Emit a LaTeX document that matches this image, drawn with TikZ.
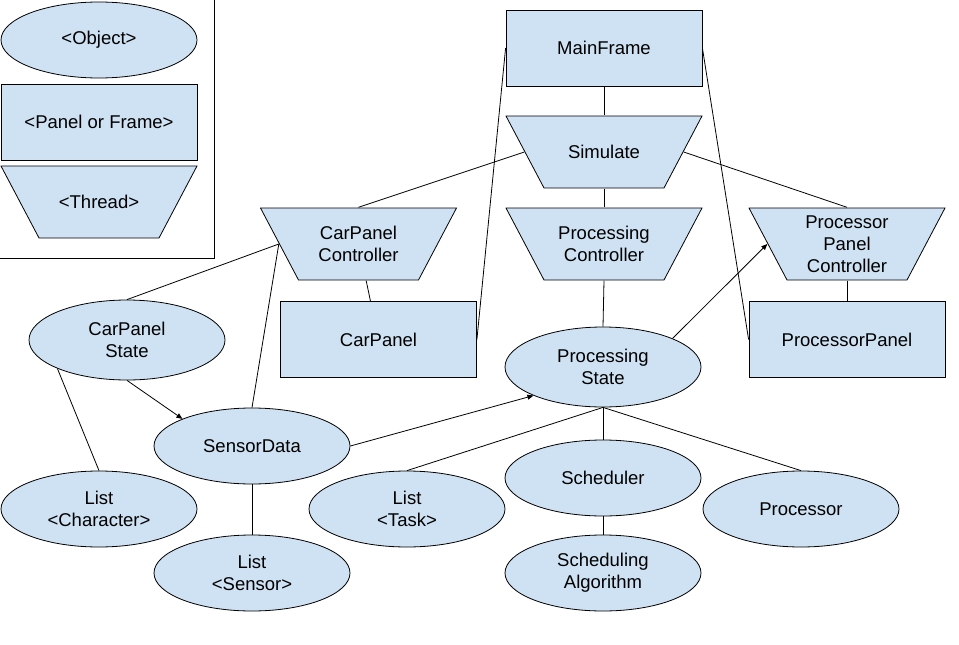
\documentclass[tikz,border=0pt]{standalone}
\usepackage{fontspec}
\setmainfont{Liberation Sans}
\usetikzlibrary{shapes.geometric,arrows.meta}
\definecolor{nodefill}{HTML}{CFE2F3}
\begin{document}
\begin{tikzpicture}[x=1pt,y=-1pt,
  every node/.style={font=\fontsize{18.5}{22}\selectfont, align=center, inner sep=0pt},
  obj/.style={ellipse, draw=black, fill=nodefill, line width=0.8pt, minimum width=196pt, minimum height=76pt},
  objtall/.style={obj, minimum height=80pt},
  panel/.style={rectangle, draw=black, fill=nodefill, line width=0.8pt, minimum width=196pt, minimum height=76pt},
  thread/.style={rectangle, minimum width=197pt, minimum height=73pt,
    path picture={
      \filldraw[fill=nodefill, draw=black, line width=0.8pt]
        ([xshift=0.5pt,yshift=-0.5pt]path picture bounding box.north west) --
        ([xshift=-0.5pt,yshift=-0.5pt]path picture bounding box.north east) --
        ([xshift=-38.5pt,yshift=0.5pt]path picture bounding box.south east) --
        ([xshift=38.5pt,yshift=0.5pt]path picture bounding box.south west) -- cycle;
    }},
  conn/.style={line width=0.8pt, draw=black},
  arr/.style={conn, -{Triangle[length=6pt,width=5pt]}}
]
\useasboundingbox (0,0) rectangle (959,645);

% legend
\node[obj] (legObj) at (99,40) {<Object>};
\node[panel] (legPanel) at (99,122) {<Panel or Frame>};
\node[thread] (legThread) at (99,202) {<Thread>};
\coordinate (lgA) at (214,0);
\coordinate (lgB) at (214,258);
\coordinate (lgC) at (0,258);
\draw[conn] (lgA) -- (lgB) -- (lgC);

% main nodes
\node[panel] (MainFrame) at (604,48) {MainFrame};
\node[thread] (Simulate) at (604,152) {Simulate};
\node[thread] (CarPanelCtrl) at (358.5,244) {CarPanel\\Controller};
\node[thread] (ProcCtrl) at (604,244) {Processing\\Controller};
\node[thread] (PPC) at (847,244) {Processor\\Panel\\Controller};
\node[panel] (CarPanel) at (378.5,339.5) {CarPanel};
\node[panel] (ProcessorPanel) at (847,339.5) {ProcessorPanel};
\node[objtall] (ProcState) at (603,367) {Processing\\State};
\node[objtall] (CarPanelState) at (127,340) {CarPanel\\State};
\node[obj] (SensorData) at (252,446) {SensorData};
\node[obj] (ListChar) at (99,509) {List\\<Character>};
\node[obj] (ListSensor) at (252,573) {List\\<Sensor>};
\node[obj] (ListTask) at (407,509) {List\\<Task>};
\node[obj] (Scheduler) at (603,478) {Scheduler};
\node[obj] (SchedAlg) at (603,573) {Scheduling\\Algorithm};
\node[obj] (Processor) at (801,509) {Processor};

% connectors
\draw[conn] (MainFrame.south) -- (Simulate.north);
\draw[conn] (Simulate.south) -- (ProcCtrl.north);
\draw[conn] ([xshift=19pt]Simulate.west) -- (CarPanelCtrl.north);
\draw[conn] ([xshift=-19pt]Simulate.east) -- (PPC.north);
\draw[conn] (MainFrame.west) -- (CarPanel.east);
\draw[conn] (MainFrame.east) -- (ProcessorPanel.west);
\draw[conn] (CarPanelCtrl) -- (CarPanel);
\draw[conn] ([xshift=19pt]CarPanelCtrl.west) -- (CarPanelState.north);
\draw[conn] ([xshift=19pt]CarPanelCtrl.west) -- (SensorData.north);
\draw[conn] (ProcCtrl.south) -- (ProcState.north);
\draw[arr] (ProcState.north east) -- ([xshift=19pt]PPC.west);
\draw[conn] (PPC.south) -- (ProcessorPanel.north);
\draw[arr] (SensorData.east) -- (ProcState.south west);
\draw[arr] (CarPanelState.south) -- (SensorData.north west);
\draw[conn] (CarPanelState.south west) -- (ListChar.north);
\draw[conn] (SensorData.south) -- (ListSensor.north);
\draw[conn] (ProcState.south) -- (ListTask.north);
\draw[conn] (ProcState.south) -- (Scheduler.north);
\draw[conn] (ProcState.south) -- (Processor.north);
\draw[conn] (Scheduler.south) -- (SchedAlg.north);
\end{tikzpicture}
\end{document}
